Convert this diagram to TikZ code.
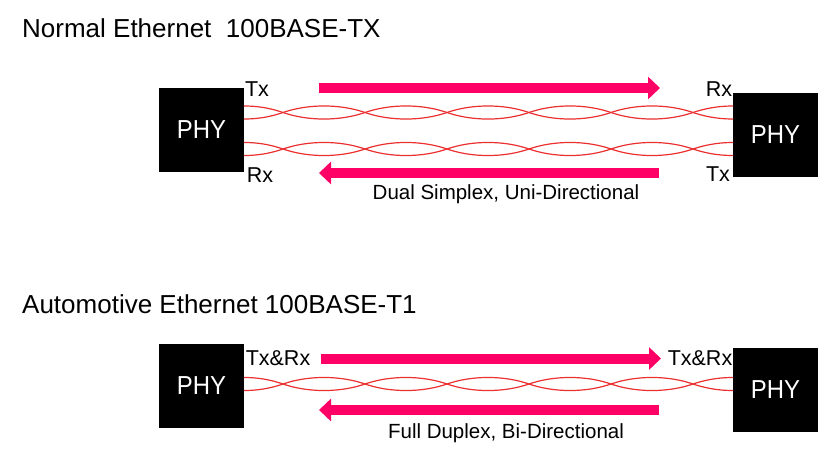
\documentclass[tikz,border=0pt]{standalone}
\usepackage{fontspec}
\setmainfont{Liberation Sans}
\newfontfamily\narrowfont{Liberation Sans}[FakeStretch=0.92]
\usetikzlibrary{arrows.meta}
\definecolor{arrowpink}{RGB}{255,0,102}
\definecolor{wirered}{RGB}{236,48,48}
\tikzset{
  phybox/.style={fill=black, text=white, minimum width=85pt, minimum height=84pt, inner sep=0pt,
    font=\narrowfont\fontsize{26}{30}\selectfont},
  titletext/.style={anchor=base west, inner sep=0pt, font=\fontsize{26}{30}\selectfont},
  porttext/.style={anchor=base, inner sep=0pt, font=\fontsize{21.5}{25}\selectfont},
  captext/.style={anchor=base, inner sep=0pt, font=\fontsize{20.5}{24}\selectfont},
  bigarrow/.style={draw=arrowpink, line width=10pt, -{Triangle[length=12pt,width=22pt]}},
  wire/.style={draw=wirered, line width=1.2pt},
}
\newcommand\twistpair[1]{%
  \draw[wire] (244,#1-6.5) .. controls (262,#1-6.5) and (274,#1-3) .. (283,#1);
  \draw[wire] (244,#1+6.5) .. controls (262,#1+6.5) and (274,#1+3) .. (283,#1);
  \foreach \xx in {283,365,447,529,611}{
    \draw[wire] (\xx,#1) .. controls (\xx+25,#1-8.7) and (\xx+57,#1-8.7) .. (\xx+82,#1);
    \draw[wire] (\xx,#1) .. controls (\xx+25,#1+8.7) and (\xx+57,#1+8.7) .. (\xx+82,#1);
  }
  \draw[wire] (733,#1-6.5) .. controls (715,#1-6.5) and (702,#1-3) .. (693,#1);
  \draw[wire] (733,#1+6.5) .. controls (715,#1+6.5) and (702,#1+3) .. (693,#1);
}
\begin{document}
\begin{tikzpicture}[x=1pt,y=-1pt]
\useasboundingbox (0,0) rectangle (831,458);
\fill[white] (0,0) rectangle (831,458);

% ---- Normal Ethernet ----
\node[titletext] (t1) at (22,37) {Normal Ethernet\ \ 100BASE-TX};
\node[phybox] (phy1) at (201.5,130) {PHY};
\node[phybox] (phy2) at (775.5,135) {PHY};

\twistpair{112.5}
\twistpair{149}

\coordinate (a1s) at (319,88);
\coordinate (a1e) at (660,88);
\coordinate (a2s) at (659,173);
\coordinate (a2e) at (319,173);
\draw[bigarrow] (a1s) -- (a1e);
\draw[bigarrow] (a2s) -- (a2e);

\node[porttext] (tx1) at (257,96) {Tx};
\node[porttext] (rx1) at (260,182) {Rx};
\node[porttext] (rx2) at (719,96) {Rx};
\node[porttext] (tx2) at (718,181) {Tx};
\node[captext] (c1) at (506,199) {Dual Simplex, Uni-Directional};

% ---- Automotive Ethernet ----
\node[titletext] (t2) at (22,313) {Automotive Ethernet 100BASE-T1};
\node[phybox] (phy3) at (201.5,385.5) {PHY};
\node[phybox] (phy4) at (775.5,389.5) {PHY};

\twistpair{384}

\coordinate (b1s) at (321,358.5);
\coordinate (b1e) at (661,358.5);
\coordinate (b2s) at (659,410);
\coordinate (b2e) at (319,410);
\draw[bigarrow] (b1s) -- (b1e);
\draw[bigarrow] (b2s) -- (b2e);

\node[porttext] (tr1) at (278,365) {Tx\&Rx};
\node[porttext] (tr2) at (700,365) {Tx\&Rx};
\node[captext] (c2) at (506,438) {Full Duplex, Bi-Directional};
\end{tikzpicture}
\end{document}
